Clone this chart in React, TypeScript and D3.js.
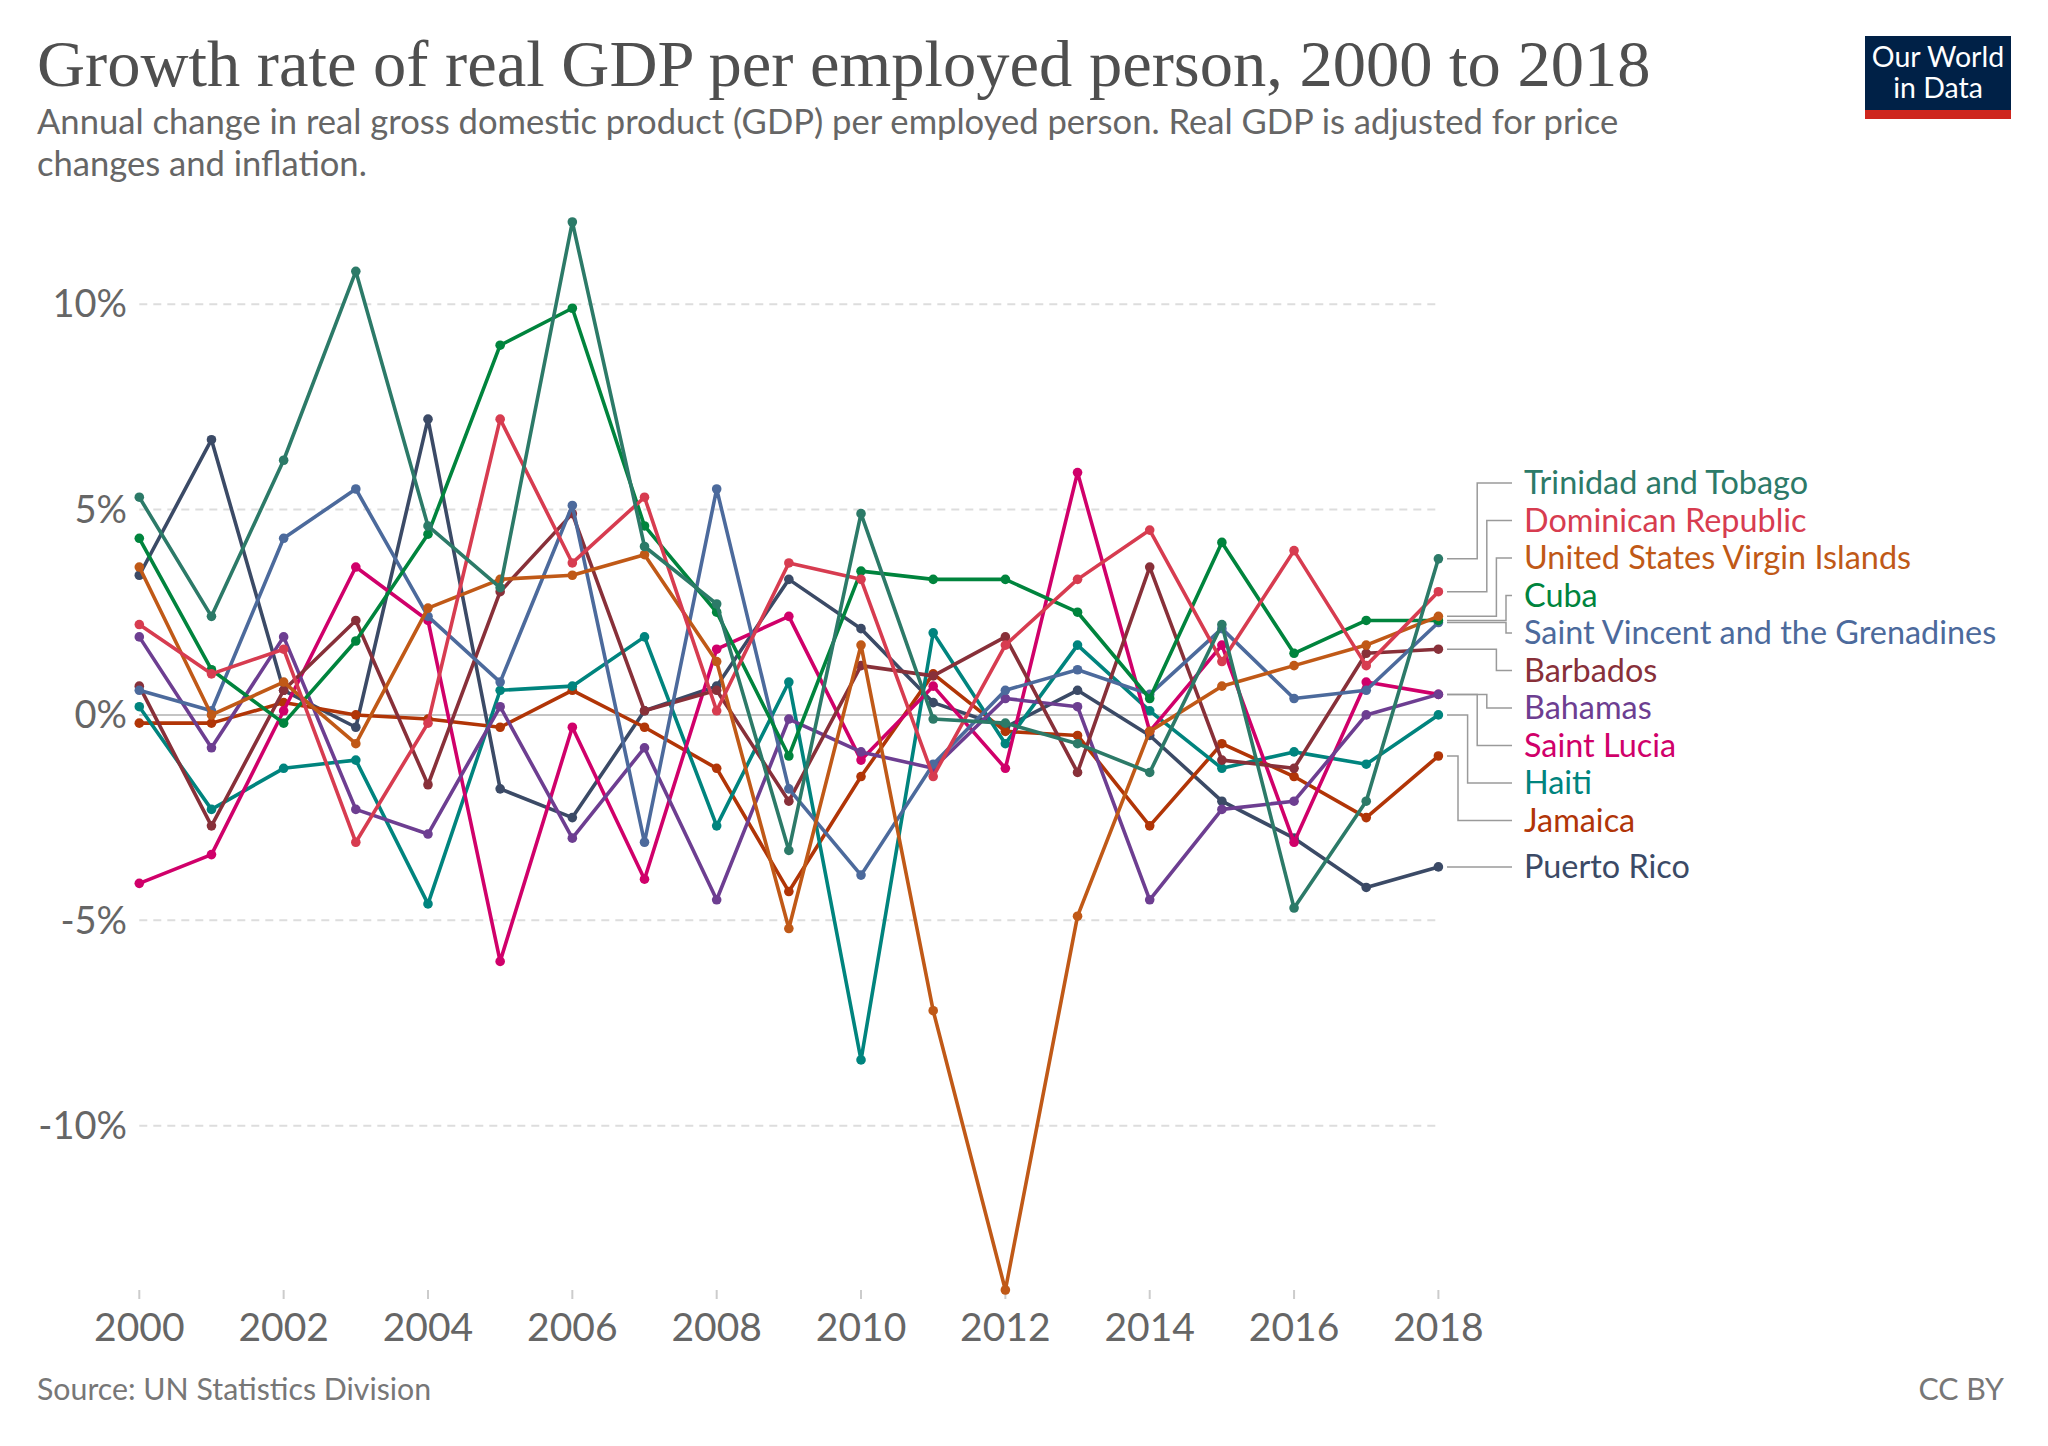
import React from 'react';
import * as d3 from 'd3';

const years = [2000, 2001, 2002, 2003, 2004, 2005, 2006, 2007, 2008, 2009, 2010, 2011, 2012, 2013, 2014, 2015, 2016, 2017, 2018];
const xTickYears = [2000, 2002, 2004, 2006, 2008, 2010, 2012, 2014, 2016, 2018];
const yTickValues = [10, 5, 0, -5, -10];

const trinidad = [5.3, 2.4, 6.2, 10.8, 4.6, 3.1, 12.0, 4.1, 2.7, -3.3, 4.9, -0.1, -0.2, -0.7, -1.4, 2.2, -4.7, -2.1, 3.8];
const dominican = [2.2, 1.0, 1.6, -3.1, -0.2, 7.2, 3.7, 5.3, 0.1, 3.7, 3.3, -1.5, 1.7, 3.3, 4.5, 1.3, 4.0, 1.2, 3.0];
const usvi = [3.6, 0.0, 0.8, -0.7, 2.6, 3.3, 3.4, 3.9, 1.3, -5.2, 1.7, -7.2, -14.0, -4.9, -0.4, 0.7, 1.2, 1.7, 2.4];
const cuba = [4.3, 1.1, -0.2, 1.8, 4.4, 9.0, 9.9, 4.6, 2.5, -1.0, 3.5, 3.3, 3.3, 2.5, 0.4, 4.2, 1.5, 2.3, 2.3];
const stVincent = [0.6, 0.1, 4.3, 5.5, 2.4, 0.8, 5.1, -3.1, 5.5, -1.8, -3.9, -1.2, 0.6, 1.1, 0.5, 2.1, 0.4, 0.6, 2.25];
const barbados = [0.7, -2.7, 0.6, 2.3, -1.7, 3.0, 4.9, 0.1, 0.6, -2.1, 1.2, 0.95, 1.9, -1.4, 3.6, -1.1, -1.3, 1.5, 1.6];
const bahamas = [1.9, -0.8, 1.9, -2.3, -2.9, 0.2, -3.0, -0.8, -4.5, -0.1, -0.9, -1.3, 0.4, 0.2, -4.5, -2.3, -2.1, 0.0, 0.5];
const stLucia = [-4.1, -3.4, 0.1, 3.6, 2.3, -6.0, -0.3, -4.0, 1.6, 2.4, -1.1, 0.7, -1.3, 5.9, -0.4, 1.7, -3.1, 0.8, 0.5];
const haiti = [0.2, -2.3, -1.3, -1.1, -4.6, 0.6, 0.7, 1.9, -2.7, 0.8, -8.4, 2.0, -0.7, 1.7, 0.1, -1.3, -0.9, -1.2, 0.0];
const jamaica = [-0.2, -0.2, 0.3, 0.0, -0.1, -0.3, 0.6, -0.3, -1.3, -4.3, -1.5, 1.0, -0.4, -0.5, -2.7, -0.7, -1.5, -2.5, -1.0];
const puertoRico = [3.4, 6.7, 0.6, -0.3, 7.2, -1.8, -2.5, 0.1, 0.7, 3.3, 2.1, 0.3, -0.3, 0.6, -0.5, -2.1, -3.0, -4.2, -3.7];

const seriesNames = ['Trinidad and Tobago', 'Dominican Republic', 'United States Virgin Islands', 'Cuba', 'Saint Vincent and the Grenadines', 'Barbados', 'Bahamas', 'Saint Lucia', 'Haiti', 'Jamaica', 'Puerto Rico'];
const seriesValues = [trinidad, dominican, usvi, cuba, stVincent, barbados, bahamas, stLucia, haiti, jamaica, puertoRico];
const seriesColors = ['#2c7a68', '#d73c50', '#c05917', '#00843d', '#4c6a9c', '#883039', '#6d3e91', '#d0006a', '#00847e', '#b13507', '#3b4a66'];

const W = 2048;
const H = 1446;
const LABEL_H = 37.5;

export default function App() {
  const x = d3.scaleLinear().domain([2000, 2018]).range([139.3, 1438.4]);
  const y = d3.scaleLinear().domain([-14, 12]).range([1290, 222]);
  const line = d3.line<number>().x((_, i) => x(years[i])).y((d) => y(d));

  const series = seriesNames.map((name, i) => ({
    name,
    color: seriesColors[i],
    values: seriesValues[i],
  }));

  // label layout
  const labels = series
    .map((s) => ({ name: s.name, color: s.color, target: y(s.values[s.values.length - 1]), ly: 0, elbow: 0 }))
    .sort((a, b) => a.target - b.target);
  let groups = labels.map((l) => [l]);
  const place = (g: typeof labels) => {
    const c = d3.mean(g, (d) => d.target) as number;
    g.forEach((d, k) => { d.ly = c - ((g.length - 1) / 2) * LABEL_H + k * LABEL_H; });
  };
  groups.forEach(place);
  let changed = true;
  while (changed) {
    changed = false;
    for (let i = 0; i < groups.length - 1; i++) {
      const a = groups[i];
      const b = groups[i + 1];
      if (a[a.length - 1].ly + LABEL_H > b[0].ly) {
        const m = a.concat(b);
        place(m);
        groups.splice(i, 2, m);
        changed = true;
        break;
      }
    }
  }
  const lineStart = 1447;
  const lineEnd = 1512;
  const elbowBase = 1506;
  const elbowStep = 9.6;
  groups.forEach((g) => {
    const up = g.filter((d) => d.ly < d.target).sort((a, b) => b.ly - a.ly);
    const down = g.filter((d) => d.ly >= d.target).sort((a, b) => a.ly - b.ly);
    up.forEach((d, k) => { d.elbow = elbowBase - k * elbowStep; });
    down.forEach((d, k) => { d.elbow = elbowBase - k * elbowStep; });
  });

  const drawOrder = [...series].reverse();

  return (
    <svg width={W} height={H} viewBox={`0 0 ${W} ${H}`} style={{ position: 'absolute', left: 0, top: 0, background: '#fff' }}>
      <rect x={0} y={0} width={W} height={H} fill="#fff" />
      <text x={37} y={86} fontFamily="'Liberation Serif', 'DejaVu Serif', serif" fontSize={66.5} fill="#4f4f4f">
        Growth rate of real GDP per employed person, 2000 to 2018
      </text>
      <text fontFamily="Lato, 'Noto Sans', sans-serif" fontSize={34.6} fill="#666">
        <tspan x={37} y={134}>Annual change in real gross domestic product (GDP) per employed person. Real GDP is adjusted for price</tspan>
        <tspan x={37} y={176}>changes and inflation.</tspan>
      </text>

      {/* logo */}
      <rect x={1865} y={36} width={146} height={74} fill="#002147" />
      <rect x={1865} y={110} width={146} height={9} fill="#ce261e" />
      <text x={1938} y={67} textAnchor="middle" fontFamily="Lato, sans-serif" fontSize={28.5} fill="#fff">Our World</text>
      <text x={1938} y={98} textAnchor="middle" fontFamily="Lato, sans-serif" fontSize={28.5} fill="#fff">in Data</text>

      {/* gridlines */}
      {yTickValues.map((v) => (
        <g key={v}>
          <line
            x1={x(2000)}
            x2={x(2018)}
            y1={y(v)}
            y2={y(v)}
            stroke={v === 0 ? '#c4c4c4' : '#dddddd'}
            strokeWidth={2}
            strokeDasharray={v === 0 ? undefined : '8,6'}
          />
          <text x={127} y={y(v)} dy="0.35em" textAnchor="end" fontFamily="Lato, sans-serif" fontSize={38} fill="#666">
            {`${v}%`}
          </text>
        </g>
      ))}

      {/* x ticks */}
      {xTickYears.map((yr) => (
        <g key={yr}>
          <line x1={x(yr)} x2={x(yr)} y1={1290} y2={1299} stroke="#ccc" strokeWidth={2} />
          <text x={x(yr)} y={1341} textAnchor="middle" fontFamily="Lato, sans-serif" fontSize={39} fill="#666">
            {yr}
          </text>
        </g>
      ))}

      {/* series */}
      {drawOrder.map((s) => (
        <g key={s.name}>
          <path d={line(s.values) || ''} fill="none" stroke={s.color} strokeWidth={3.6} strokeLinejoin="round" />
          {s.values.map((v, i) => (
            <circle key={i} cx={x(years[i])} cy={y(v)} r={4.8} fill={s.color} />
          ))}
        </g>
      ))}

      {/* labels */}
      {labels.map((l) => (
        <g key={l.name}>
          <path
            d={`M${lineStart},${l.target}H${l.elbow}V${l.ly}H${lineEnd}`}
            fill="none"
            stroke="#9a9a9a"
            strokeWidth={1.5}
          />
          <text x={1524} y={l.ly} dy="0.35em" fontFamily="Lato, sans-serif" fontSize={32.4} fill={l.color}>
            {l.name}
          </text>
        </g>
      ))}

      <text x={37} y={1400} fontFamily="Lato, sans-serif" fontSize={30.3} fill="#777">Source: UN Statistics Division</text>
      <text x={2004} y={1400} textAnchor="end" fontFamily="Lato, sans-serif" fontSize={30.3} fill="#777">CC BY</text>
    </svg>
  );
}
